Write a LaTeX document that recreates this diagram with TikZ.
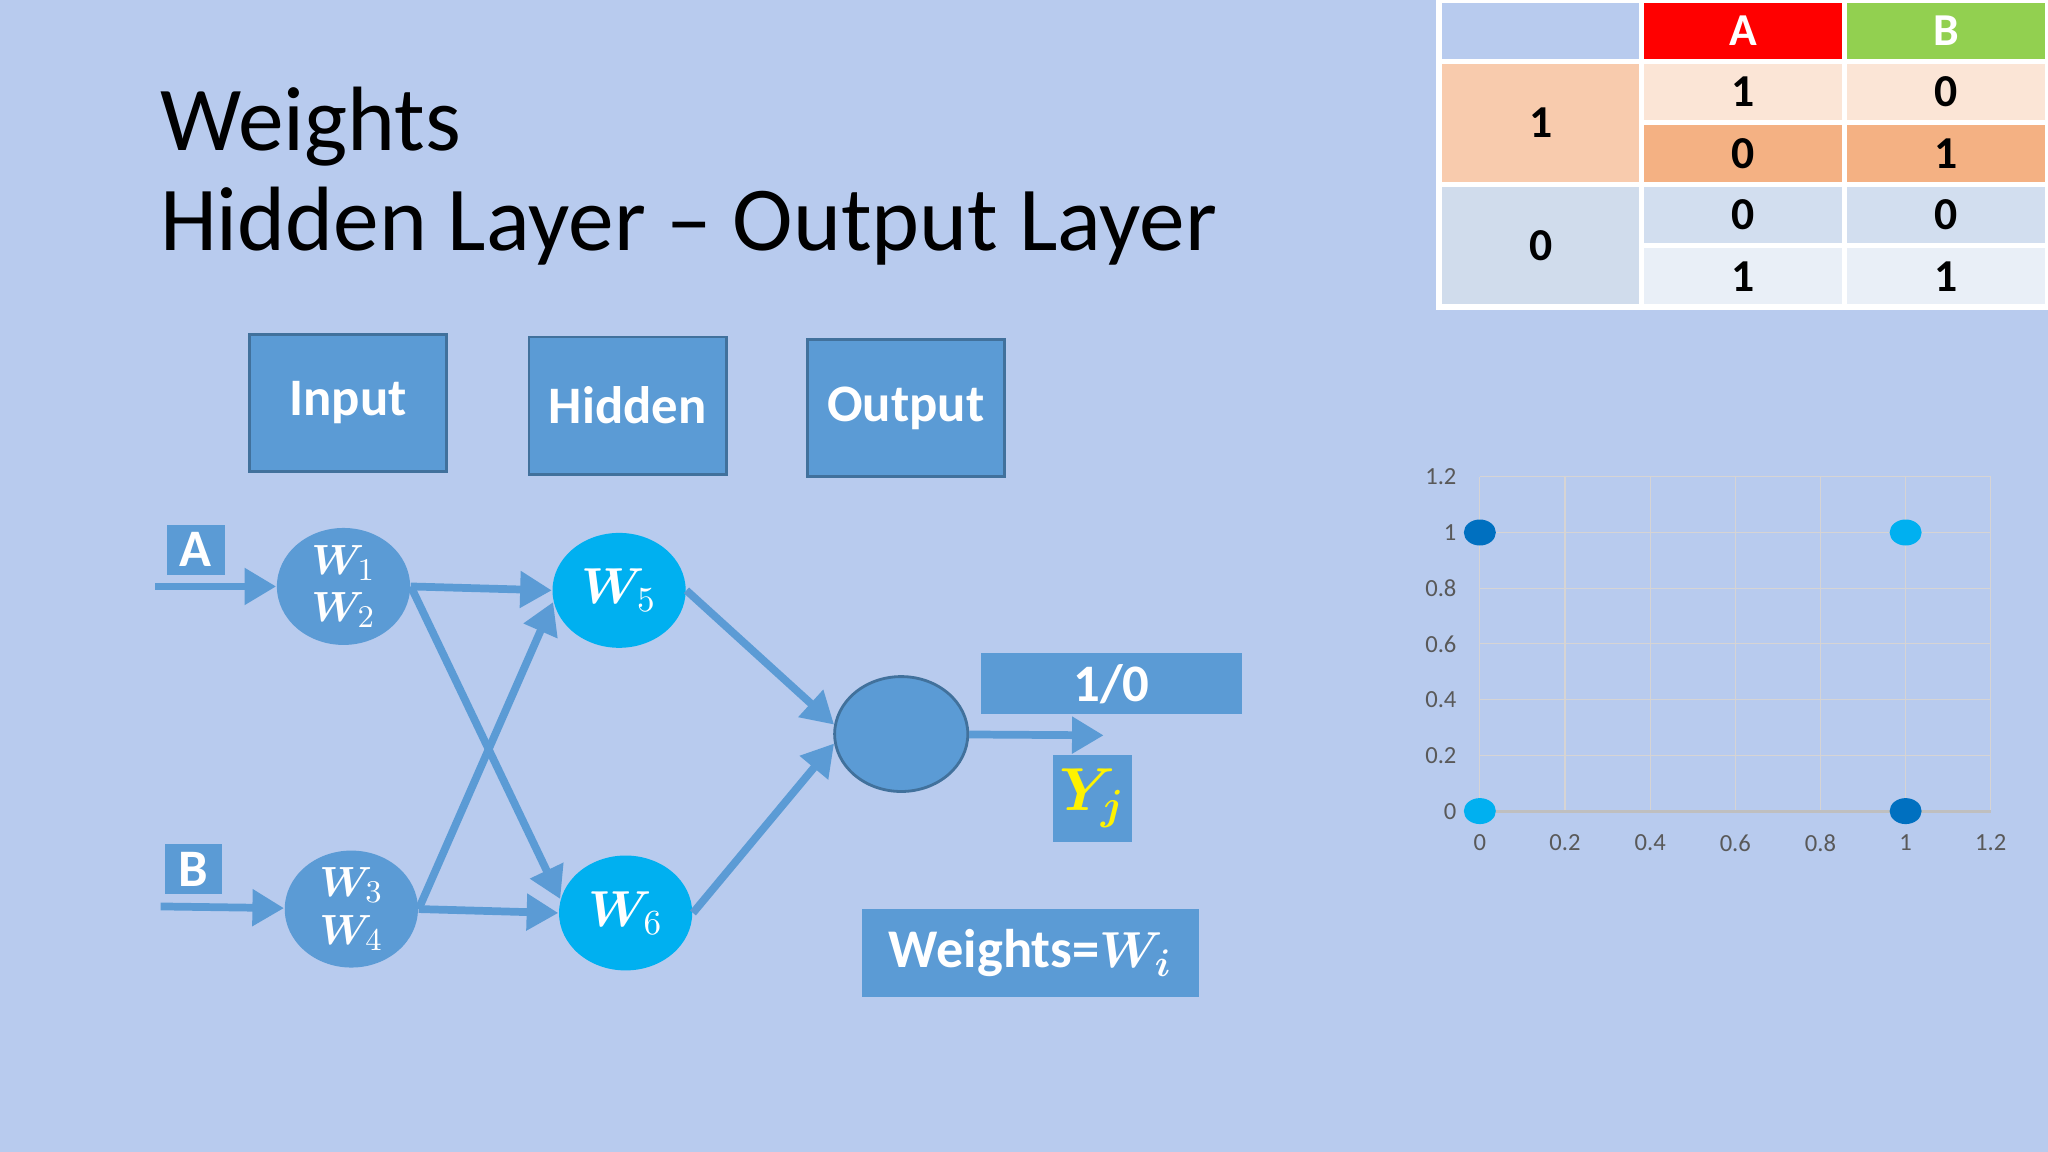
\documentclass[tikz,border=0pt]{standalone}
\usepackage{fontspec}
\usepackage{bm}
\setmainfont{Carlito}
\usetikzlibrary{arrows.meta, shapes.geometric}

\definecolor{bgblue}{RGB}{184,203,238}
\definecolor{boxblue}{RGB}{91,155,213}
\definecolor{boxline}{RGB}{65,113,156}
\definecolor{hidcyan}{RGB}{0,176,240}
\definecolor{dotdark}{RGB}{0,112,192}
\definecolor{hdrred}{RGB}{255,0,0}
\definecolor{hdrgreen}{RGB}{146,208,80}
\definecolor{peachA}{RGB}{248,203,173}
\definecolor{peachB}{RGB}{251,229,214}
\definecolor{peachC}{RGB}{244,177,131}
\definecolor{greyA}{RGB}{208,220,236}
\definecolor{greyB}{RGB}{210,222,239}
\definecolor{greyC}{RGB}{233,239,247}
\definecolor{gridtan}{RGB}{214,212,212}
\definecolor{labgrey}{RGB}{89,89,89}

\begin{document}
\begin{tikzpicture}[x=0.013061cm, y=-0.013061cm,
    link/.style={-{Triangle[length=9pt,width=10pt]}, line width=2.2pt, draw=boxblue},
    layer/.style={rectangle, fill=boxblue, draw=boxline, line width=0.8pt, text=white,
        minimum width=1.972cm, minimum height=1.371cm, font=\bfseries\fontsize{15}{18}\selectfont},
    tag/.style={rectangle, fill=boxblue, text=white, inner sep=0pt,
        font=\bfseries\fontsize{15}{18}\selectfont},
    neuron/.style={ellipse, fill=boxblue, minimum width=1.332cm, minimum height=1.149cm,
        text=white, inner sep=0pt, align=center, font=\fontsize{12.5}{13.5}\selectfont},
    cell/.style={rectangle, draw=white, line width=1.5pt, minimum width=2.03cm,
        minimum height=0.614cm, font=\bfseries\fontsize{13}{15}\selectfont},
    tick/.style={text=labgrey, font=\fontsize{7}{8}\selectfont, inner sep=1pt}]

    % background
    \useasboundingbox (0,0) rectangle (1568,882);
    \fill[bgblue] (0,0) rectangle (1568,882);

    \node[anchor=base west, font=\fontsize{26}{28}\selectfont] (title) at (113,115) {Weights};
    \node[anchor=base west, font=\fontsize{26}{28}\selectfont] (subtitle) at (113,192) {Hidden Layer -- Output Layer};

    \node[layer] (Lin) at (266.5,308.5) {Input};
    \node[layer] (Lhid) at (480.5,310.5) {Hidden};
    \node[layer] (Lout) at (693.5,312.5) {Output};

    \node[tag, minimum width=0.575cm, minimum height=0.496cm] (tA) at (150,421) {A};
    \node[tag, minimum width=0.575cm, minimum height=0.496cm] (tB) at (148,665.5) {B};

    \node[neuron] (I1) at (263,449) {$\bm{W}_{1}$\\$\bm{W}_{2}$};
    \node[neuron] (I2) at (269,696) {$\bm{W}_{3}$\\$\bm{W}_{4}$};
    \node[neuron, fill=hidcyan, font=\fontsize{14}{15}\selectfont] (H1) at (474,452) {$\bm{W}_{5}$};
    \node[neuron, fill=hidcyan, font=\fontsize{14}{15}\selectfont] (H2) at (479,699) {$\bm{W}_{6}$};
    \node[neuron, draw=boxline, line width=0.8pt] (O) at (690,562) {};

    \coordinate (a0) at (119,449);
    \coordinate (b0) at (123,694);
    \coordinate (y0) at (845,563);

\path
        (a0) edge[link] (I1)
        (b0) edge[link] (I2)
        (I1.east) edge[link] (H1.west)
        (I1.east) edge[link] (H2.168)
        (I2.east) edge[link] (H1.190)
        (I2.east) edge[link] (H2.west)
        (H1.east) edge[link] (O.172)
        (H2.east) edge[link] (O.188)
        (O) edge[link] (y0)
;

    \node[tag, minimum width=2.612cm, minimum height=0.614cm] (res) at (851,523.5) {1/0};
    \node[tag, minimum width=0.797cm, minimum height=0.875cm, text=yellow,
        font=\fontsize{18}{20}\selectfont] (yj) at (836.5,611.5) {$\bm{Y_{j}}$};
    \node[tag, minimum width=3.37cm, minimum height=0.875cm,
        font=\bfseries\fontsize{15.5}{18}\selectfont] (wts) at (789,729.5) {Weights=$\bm{W_{i}}$};

    % truth table
    \node[cell, minimum height=0.614cm] (c00) at (1179.5,23.5) {};
    \node[cell, fill=hdrred, text=white] (cA) at (1334.5,23.5) {A};
    \node[cell, fill=hdrgreen, text=white] (cB) at (1490,23.5) {B};
    \node[cell, fill=peachA, minimum height=1.228cm] (r1) at (1179.5,94) {1};
    \node[cell, fill=peachB] (r1a) at (1334.5,70.5) {1};
    \node[cell, fill=peachB] (r1b) at (1490,70.5) {0};
    \node[cell, fill=peachC] (r2a) at (1334.5,117.5) {0};
    \node[cell, fill=peachC] (r2b) at (1490,117.5) {1};
    \node[cell, fill=greyA, minimum height=1.228cm] (r0) at (1179.5,188) {0};
    \node[cell, fill=greyB] (r3a) at (1334.5,164.5) {0};
    \node[cell, fill=greyB] (r3b) at (1490,164.5) {0};
    \node[cell, fill=greyC] (r4a) at (1334.5,211.5) {1};
    \node[cell, fill=greyC] (r4b) at (1490,211.5) {1};

    % scatter chart
    \begin{scope}[shift={(1133,621)}, x=4.258cm, y=2.786cm]
        \foreach \v in {0.2,0.4,0.6,0.8,1,1.2} {
            \draw[gridtan, line width=0.3pt] (\v,0) -- (\v,1.2);
            \draw[gridtan, line width=0.3pt] (0,\v) -- (1.2,\v);
        }
        \draw[gridtan, line width=0.3pt] (0,0) -- (0,1.2);
        \draw[black!25, line width=0.8pt] (0,0) -- (1.2,0);
        \foreach \v in {0,0.2,0.4,0.6,0.8,1,1.2} {
            \node[tick, anchor=east] (yl\v) at (-0.045,\v) {\v};
            \node[tick, anchor=north] (xl\v) at (\v,-0.07) {\v};
        }
        \fill[dotdark] (0,1) circle[x radius=0.16cm, y radius=0.13cm];
        \fill[hidcyan] (1,1) circle[x radius=0.16cm, y radius=0.13cm];
        \fill[hidcyan] (0,0) circle[x radius=0.16cm, y radius=0.13cm];
        \fill[dotdark] (1,0) circle[x radius=0.16cm, y radius=0.13cm];
    \end{scope}
\end{tikzpicture}
\end{document}
